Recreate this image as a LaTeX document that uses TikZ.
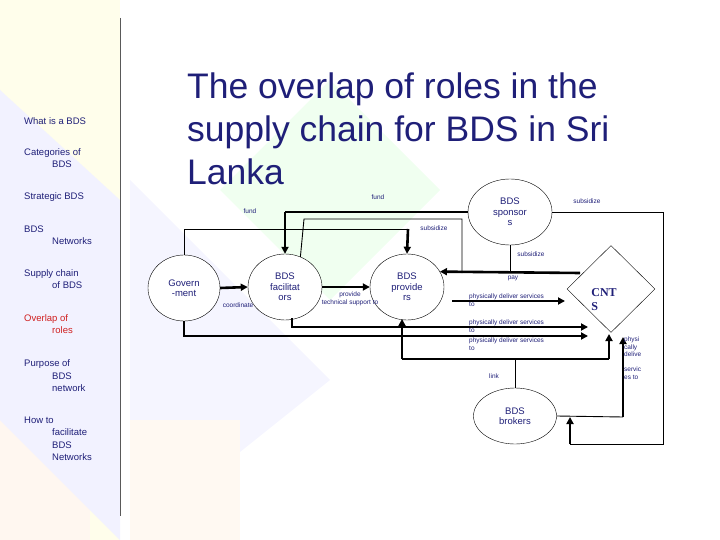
\documentclass[tikz,border=0pt]{standalone}
\usepackage{fontspec}
\setmainfont{Liberation Sans}
\newfontfamily\serifb{Liberation Serif}
\usetikzlibrary{shapes.geometric,arrows.meta}
\definecolor{navy}{HTML}{1F1F78}
\definecolor{redo}{HTML}{D02020}
\tikzset{
 ell/.style={ellipse,draw,fill=white,inner sep=0pt,text=navy,align=center,font=\fontsize{9.5}{10.5}\selectfont},
 thinln/.style={line width=0.9pt},
 thickln/.style={line width=2.6pt},
 thickarr/.style={line width=2.6pt,-{Triangle[length=7pt,width=7pt]}},
 lbl/.style={text=navy,font=\fontsize{6.5}{7.5}\selectfont,inner sep=0pt,align=left},
 side/.style={text=navy,font=\fontsize{9.5}{12.5}\selectfont,anchor=west,inner sep=0pt,align=left},
}
\begin{document}
\begin{tikzpicture}[x=1pt,y=-1pt]
\useasboundingbox (0,0) rectangle (720,540);
% background pastel
\fill[yellow!8] (0,0) rectangle (120,540);
\fill[orange!6] (0,300) rectangle (90,540);
\fill[blue!5] (0,90) -- (120,200) -- (120,540) -- (0,420) -- cycle;
\fill[green!6] (330,80) -- (440,190) -- (330,300) -- (220,190) -- cycle;
\fill[blue!4] (130,180) -- (330,380) -- (130,540) -- cycle;
\fill[orange!5] (130,420) rectangle (240,540);
\draw[gray!70!black,line width=0.9pt] (120,18) -- (120,516);
% sidebar
\node[side] (s1) at (24,121) {What is a BDS};
\node[side] (s2) at (24,158) {Categories of\\\hspace*{28pt}BDS};
\node[side] (s3) at (24,197) {Strategic BDS};
\node[side] (s4) at (24,235) {BDS\\\hspace*{28pt}Networks};
\node[side] (s5) at (24,279) {Supply chain\\\hspace*{28pt}of BDS};
\node[side,text=redo] (s6) at (24,324) {Overlap of\\\hspace*{28pt}roles};
\node[side] (s7) at (24,376) {Purpose of\\\hspace*{28pt}BDS\\\hspace*{28pt}network};
\node[side] (s8) at (24,439) {How to\\\hspace*{28pt}facilitate\\\hspace*{28pt}BDS\\\hspace*{28pt}Networks};
% title
\node[anchor=north west,text=navy,font=\fontsize{35.5}{43}\selectfont,align=left,inner sep=0pt] (title) at (187,73) {The overlap of roles in the\\supply chain for BDS in Sri\\Lanka};
% coordinates
\coordinate (g1) at (184,229); \coordinate (g2) at (408,229);
\coordinate (f1) at (304,219); \coordinate (f2) at (462,219); \coordinate (f3) at (462,273);
\coordinate (sp1) at (285,212);
\coordinate (p1) at (580,273);
\coordinate (r1) at (663,212); \coordinate (r2) at (663,444); \coordinate (r3) at (570,444); \coordinate (r4) at (570,417);
\coordinate (b1) at (623,417); \coordinate (b2) at (623,337);
\coordinate (a1s) at (452,301); \coordinate (a1e) at (565,301);
\coordinate (a2s) at (292,318); \coordinate (a2c) at (292,327); \coordinate (a2e) at (588,327);
\coordinate (a3c) at (184,336); \coordinate (a3e) at (588,336);
\coordinate (l1) at (402,359); \coordinate (l2) at (609,359); \coordinate (l3) at (515,359);
\coordinate (l1e) at (402,319); \coordinate (l2e) at (609,334);

\node[ell,minimum width=72pt,minimum height=66pt] (gov) at (184,288) {Govern\\-ment};
\node[ell,minimum width=74pt,minimum height=66pt] (fac) at (285,287) {BDS\\facilitat\\ors};
\node[ell,minimum width=74pt,minimum height=66pt] (prov) at (407,287) {BDS\\provide\\rs};
\node[ell,minimum width=84pt,minimum height=66pt] (spon) at (510,212) {BDS\\sponsor\\s};
\node[ell,minimum width=83pt,minimum height=56pt] (brok) at (515,416) {BDS\\brokers};
\node[diamond,draw,fill=white,minimum width=88pt,minimum height=87pt,inner sep=0pt] (cnts) at (611,289) {};
\node[text=navy,font=\serifb\bfseries\fontsize{12}{14}\selectfont,align=left,inner sep=0pt] (cntst) at (604,300) {CNT\\S};

\draw[thinln] (gov.north) -- (g1) -- (g2);
\draw[thickarr] (g2) -- (prov.north);
\draw[thickln] (spon.west) -- (sp1);
\draw[thickarr] (sp1) -- (fac.north);
\draw[thinln] (fac.63) -- (f1) -- (f2) -- (f3);
\draw[thickarr] (p1) -- (prov.25);
\draw[thinln] (spon.south) -- (510,273);
\draw[thinln] (spon.east) -- (r1) -- (r2) -- (r3);
\draw[thickarr] (r3) -- (r4);
\draw[thinln] (brok.east) -- (b1);
\draw[thickarr] (b1) -- (b2);
\draw[thickarr] (gov.east) -- (fac.west);
\draw[thickarr] (fac.east) -- (prov.west);
\draw[thickarr] (a1s) -- (a1e);
\draw[thickarr] (a2s) -- (a2c) -- (a2e);
\draw[thickarr] (gov.south) -- (a3c) -- (a3e);
\draw[thickln] (l1) -- (l2);
\draw[thickarr] (l1) -- (l1e);
\draw[thickarr] (l2) -- (l2e);
\draw[thinln] (brok.north) -- (l3);

% labels
\node[lbl] (t1) at (378,197) {fund};
\node[lbl] (t2) at (250,211) {fund};
\node[lbl] (t3) at (434,228) {subsidize};
\node[lbl] (t4) at (531,254) {subsidize};
\node[lbl] (t5) at (587,201) {subsidize};
\node[lbl] (t6) at (513,278) {pay};
\node[lbl] (t7) at (238,305) {coordinate};
\node[lbl,align=center] (t8) at (350,299) {provide\\technical support to};
\node[lbl,anchor=west] (t9) at (469,300) {physically deliver services\\to};
\node[lbl,anchor=west] (t10) at (469,326) {physically deliver services\\to};
\node[lbl,anchor=west] (t11) at (469,344) {physically deliver services\\to};
\node[lbl] (t12) at (494,376) {link};
\node[lbl,anchor=west] (t13) at (624,358) {physi\\cally\\delive\\~\\servic\\es to};
\end{tikzpicture}
\end{document}
